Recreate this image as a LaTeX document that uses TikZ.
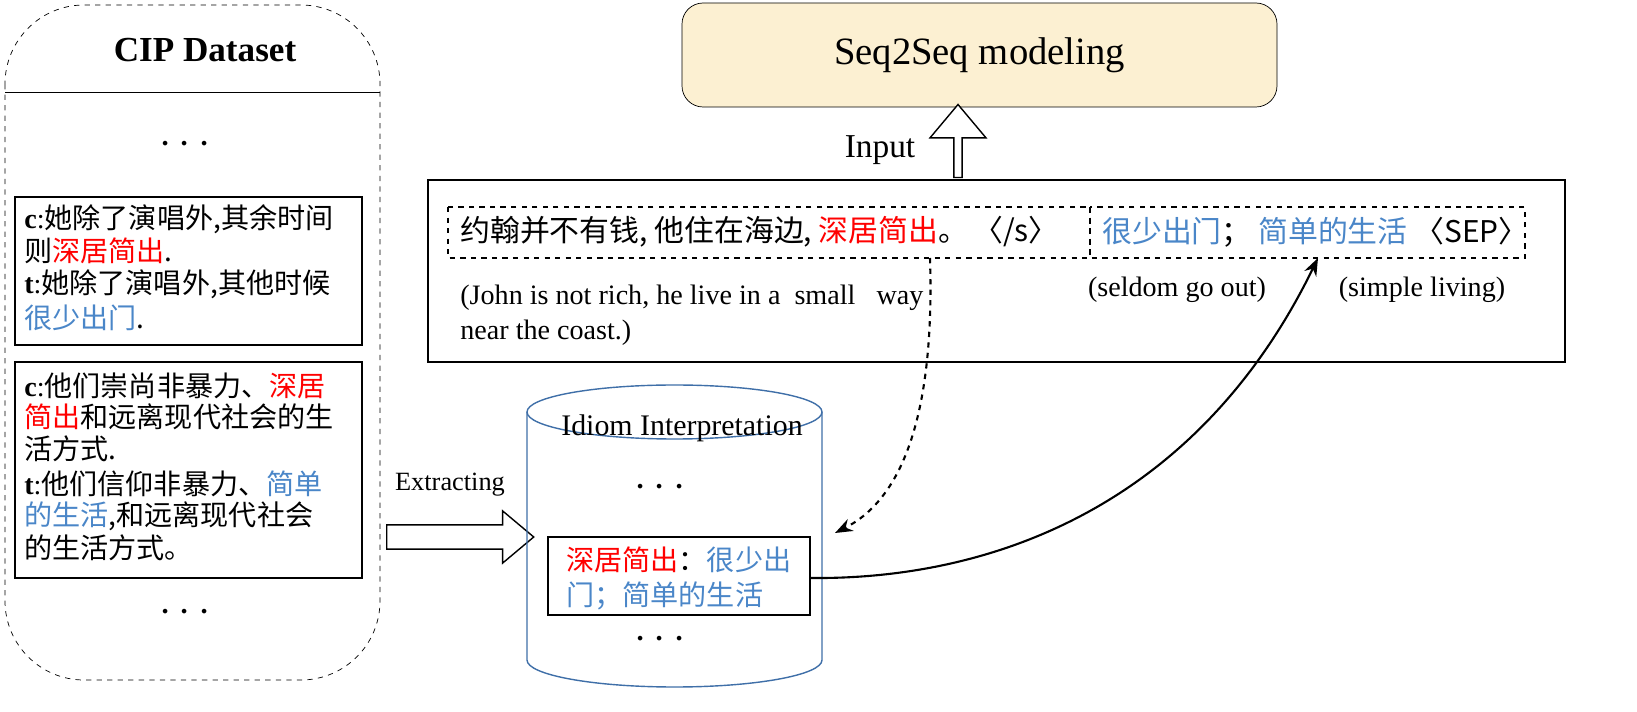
\documentclass[tikz,border=0pt]{standalone}
\usepackage{fontspec}
\setmainfont{Liberation Serif}
\newfontfamily\cjk{Noto Sans CJK SC}
\usetikzlibrary{shapes.geometric,shapes.arrows,arrows.meta}
\definecolor{idred}{HTML}{FF0000}
\definecolor{idblue}{HTML}{4A86C8}
\definecolor{cylblue}{HTML}{3F6FA8}
\definecolor{seqfill}{HTML}{FCF0D2}
\tikzset{
  txt/.style={font=\fontsize{16}{19}\selectfont, inner sep=0pt, anchor=west},
  seqtxt/.style={font=\fontsize{17}{20}\selectfont, inner sep=0pt, anchor=west},
  samplebox/.style={draw, line width=0.8pt},
  dashbox/.style={draw, dashed, line width=1.2pt},
  hollowarrow/.style={draw, single arrow, line width=0.8pt, fill=white, minimum height=#1, inner sep=1pt}
}
\newcommand{\rd}[1]{\textcolor{idred}{#1}}
\newcommand{\bl}[1]{\textcolor{idblue}{#1}}
\begin{document}
\begin{tikzpicture}[x=0.02cm,y=-0.02cm]
        %dataset panel
        \draw [dashed, rounded corners=45pt] (5,5) rectangle (380,680);
        \draw (5,92) -- (380,92);
        \node [font=\fontsize{20}{24}\selectfont\bfseries] (title) at (205,50) {CIP Dataset};
        \node [font=\Huge\bfseries] (dtop) at (185,145) {$\cdots$};
        \node [font=\Huge\bfseries] (dbot) at (185,613) {$\cdots$};

        \draw [samplebox] (15,197) rectangle (362,345);
        \node [txt] at (24,219) {\textbf{c}:\cjk 她除了演唱外,其余时间};
        \node [txt] at (24,251) {\cjk 则\rd{深居简出}.};
        \node [txt] at (24,284) {\textbf{t}:\cjk 她除了演唱外,其他时候};
        \node [txt] at (24,318) {\cjk \bl{很少出门}.};

        \draw [samplebox] (15,362) rectangle (362,578);
        \node [txt] at (24,386) {\textbf{c}:\cjk 他们崇尚非暴力、\rd{深居}};
        \node [txt] at (24,417) {\cjk \rd{简出}和远离现代社会的生};
        \node [txt] at (24,449) {\cjk 活方式.};
        \node [txt] at (24,484) {\textbf{t}:\cjk 他们信仰非暴力、\bl{简单}};
        \node [txt] at (24,516) {\cjk \bl{的生活},和远离现代社会};
        \node [txt] at (24,548) {\cjk 的生活方式。};

        %extracting
        \node [hollowarrow=147*0.02cm, minimum width=50*0.02cm, single arrow head extend=14*0.02cm, single arrow tip angle=80] (extract) at (453,537) {\rule{0pt}{11pt}};
        \node [font=\fontsize{15}{18}\selectfont] (extractlbl) at (450,485) {Extracting};

        %idiom database
        \draw [cylblue, line width=0.8pt] (527,412) -- (527,660) arc (180:0:147.5 and 27) -- (822,412);
        \draw [cylblue, line width=0.8pt] (674.5,412) ellipse (147.5 and 27);
        \node [font=\fontsize{17}{20}\selectfont] (dbname) at (682,428) {Idiom Interpretation};
        \node [font=\Huge\bfseries] (dbtop) at (660,488) {$\cdots$};
        \node [font=\Huge\bfseries] (dbbot) at (660,640) {$\cdots$};
        \draw [samplebox] (548,537) rectangle (810,615);
        \node (entry) at (810,578) {};
        \node [txt] at (566,560) {\cjk \rd{深居简出}：\bl{很少出}};
        \node [txt] at (566,596) {\cjk \bl{门；简单的生活}};

        %model
        \node [draw, rounded corners=12pt, fill=seqfill, minimum width=595*0.02cm, minimum height=104*0.02cm, font=\fontsize{22}{26}\selectfont] (model) at (979.5,55) {Seq2Seq modeling};
        \node [hollowarrow=73*0.02cm, minimum width=56*0.02cm, single arrow head extend=14*0.02cm, single arrow tip angle=80, shape border rotate=90] (inarrow) at (958,143.5) {\rule{0pt}{12pt}};
        \node [font=\fontsize{19}{22}\selectfont] (inputlbl) at (880,150) {Input};

        %input sequence
        \draw [line width=0.8pt] (428,180) rectangle (1565,362);
        \draw [dashbox] (448,207) rectangle (1090,258);
        \draw [dashbox] (1090,207) rectangle (1525,258);
        \node [seqtxt] (src) at (460,232) {\cjk 约翰并不有钱, 他住在海边, \rd{深居简出}。\,〈/s〉};
        \node [seqtxt] (tgt) at (1102,232) {\cjk \bl{很少出门}；\ \bl{简单的生活}\ 〈SEP〉};
        \coordinate (srcpt) at (930,258);
        \coordinate (tgtpt) at (1318,258);
        \node [txt] at (460,298) {(John is not rich, he live in a\ \ small\ \ \ way};
        \node [txt] at (460,333) {near the coast.)};
        \node [txt, anchor=center] at (1177,290) {(seldom go out)};
        \node [txt, anchor=center] at (1422,290) {(simple living)};

        %links
        \draw [dashed, line width=1.2pt, -{Stealth[length=10pt]}] (srcpt) .. controls (935,420) and (900,500) .. (835,533);
        \draw [line width=1.2pt, -{Stealth[length=10pt]}] (entry.center) .. controls (1000,580) and (1200,500) .. (tgtpt);

        \pgfresetboundingbox
        \useasboundingbox (0,0) rectangle (1637,712);
    \end{tikzpicture}
\end{document}
